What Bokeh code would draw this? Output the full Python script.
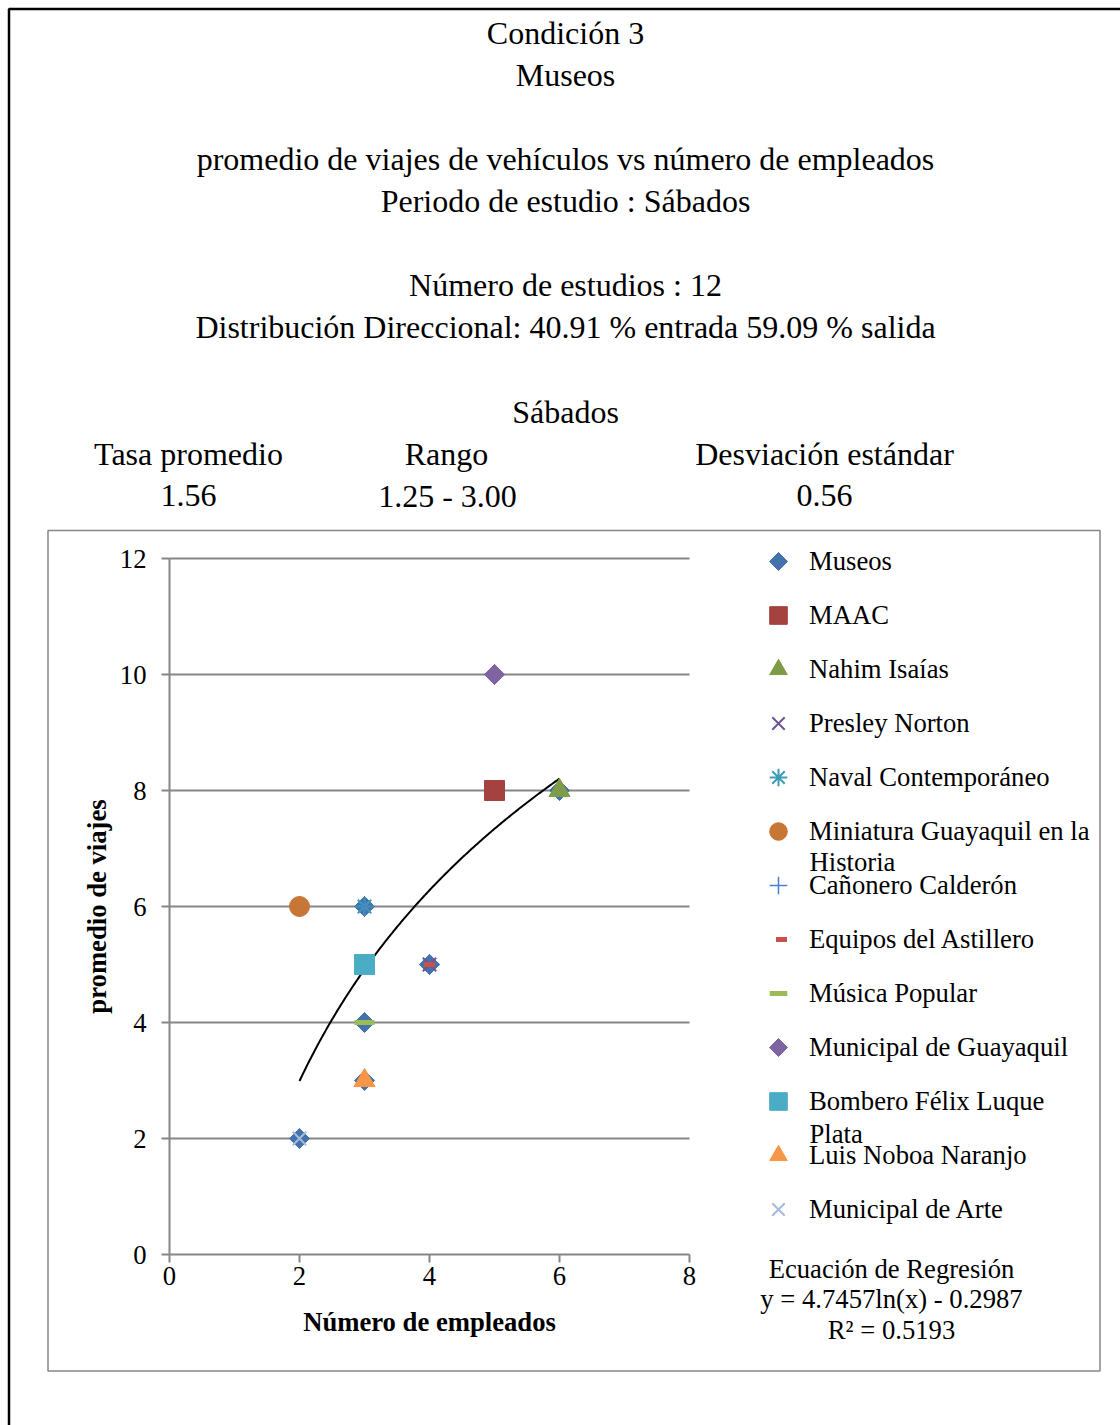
import numpy as np
from bokeh.plotting import figure
from bokeh.models import (Label, BoxAnnotation, Legend, LegendItem, Range1d,
                          FixedTicker)
from bokeh.embed import file_html
from bokeh.resources import INLINE

# ---------------- data ----------------
title_lines = ["Condición 3", "Museos",
               "promedio de viajes de vehículos vs número de empleados",
               "Periodo de estudio : Sábados",
               "Número de estudios : 12",
               "Distribución Direccional: 40.91 % entrada 59.09 % salida",
               "Sábados"]
stat_headers = ["Tasa promedio", "Rango", "Desviación estándar"]
stat_values = ["1.56", "1.25 - 3.00", "0.56"]

x_ticks = [0, 2, 4, 6, 8]
y_ticks = [0, 2, 4, 6, 8, 10, 12]
x_label = "Número de empleados"
y_label = "promedio de viajes"

series_names = ["Museos", "MAAC", "Nahim Isaías", "Presley Norton",
                "Naval Contemporáneo", "Miniatura Guayaquil en la",
                "Cañonero Calderón", "Equipos del Astillero", "Música Popular",
                "Municipal de Guayaquil", "Bombero Félix Luque",
                "Luis Noboa Naranjo", "Municipal de Arte"]
wrapped_tails = {"Miniatura Guayaquil en la": "Historia",
                 "Bombero Félix Luque": "Plata"}

museos_x = [5, 6, 4, 3, 2, 3, 4, 3, 5, 3, 3, 2]
museos_y = [8, 8, 5, 6, 6, 6, 5, 4, 10, 5, 3, 2]
maac_x, maac_y = [5], [8]
nahim_x, nahim_y = [6], [8]
presley_x, presley_y = [4], [5]
naval_x, naval_y = [3], [6]
miniatura_x, miniatura_y = [2], [6]
canonero_x, canonero_y = [3], [6]
equipos_x, equipos_y = [4], [5]
musica_x, musica_y = [3], [4]
mun_guay_x, mun_guay_y = [5], [10]
bombero_x, bombero_y = [3], [5]
noboa_x, noboa_y = [3], [3]
mun_arte_x, mun_arte_y = [2], [2]

reg_a = 4.7457
reg_b = -0.2987
reg_x_range = (2, 6)
regression_lines = ["Ecuación de Regresión", "y = 4.7457ln(x) - 0.2987",
                    "R² = 0.5193"]

# ---------------- layout constants (page px) ----------------
W, H = 1120, 1425
FL, FR, FT, FB = 169, 689, 558, 1254   # scatter area edges on page
X_MAX, Y_MAX = 8, 12
SERIF = "Liberation Serif"
GRAY = "#868686"
kx = (FR - FL) / X_MAX
ky = (FB - FT) / Y_MAX

LEG_LEFT, LEG_TOP = 756, 539
GLYPH, LEG_SPACING = 44, 10


def sx(px):
    return px


def sy(py):
    return H - py


p = figure(width=W, height=H, output_backend="svg", toolbar_location=None,
           x_range=Range1d(-FL / kx, (W - FL) / kx),
           y_range=Range1d(-(H - FB) / ky, FB / ky),
           min_border=0)
p.outline_line_color = None
p.background_fill_color = "white"
p.border_fill_color = "white"

# axes drawn at fixed data locations inside the canvas
for ax, b in ((p.xaxis[0], (0, X_MAX)), (p.yaxis[0], (0, Y_MAX))):
    ax.fixed_location = 0
    ax.bounds = b
    ax.axis_line_color = GRAY
    ax.axis_line_width = 2
    ax.major_tick_line_color = GRAY
    ax.major_tick_line_width = 2
    ax.major_tick_out = 8
    ax.major_tick_in = 0
    ax.minor_tick_line_color = None
    ax.major_label_text_font = SERIF
    ax.major_label_text_font_size = "26.67px"
    ax.major_label_text_color = "black"
    ax.axis_label_text_font = SERIF
    ax.axis_label_text_font_size = "26.67px"
    ax.axis_label_text_font_style = "bold"
    ax.axis_label_text_color = "black"
p.xaxis.ticker = FixedTicker(ticks=x_ticks)
p.yaxis.ticker = FixedTicker(ticks=y_ticks)
p.xaxis.axis_label = x_label
p.yaxis.axis_label = y_label
p.xaxis.major_label_standoff = 4
p.yaxis.major_label_standoff = 15
p.xaxis.axis_label_standoff = 19
p.yaxis.axis_label_standoff = 5
p.xgrid.visible = False
p.ygrid.visible = False

# horizontal gridlines limited to the x-axis extent
grid_y = [t for t in y_ticks if t > 0]
p.segment(x0=[0] * len(grid_y), x1=[X_MAX] * len(grid_y), y0=grid_y, y1=grid_y,
          line_color=GRAY, line_width=2)

# boxes
p.add_layout(BoxAnnotation(left=sx(8.5), right=sx(3000), top=sy(8.5),
                           bottom=sy(4000), left_units="screen",
                           right_units="screen", top_units="screen",
                           bottom_units="screen", fill_alpha=0,
                           line_color="black", line_alpha=1, line_width=2.5))
p.add_layout(BoxAnnotation(left=sx(47.5), right=sx(1099.5), top=sy(530),
                           bottom=sy(1370.5), left_units="screen",
                           right_units="screen", top_units="screen",
                           bottom_units="screen", fill_alpha=0,
                           line_color=GRAY, line_alpha=1, line_width=1.5))


def txt(s, px, py, size="32px", align="center"):
    p.add_layout(Label(x=sx(px), y=sy(py), x_units="screen", y_units="screen",
                       text=s, text_align=align, text_baseline="alphabetic",
                       text_font=SERIF, text_font_size=size,
                       text_color="black"))


step = 42.12
y0 = 32
title_rows = [0, 1, 3, 4, 6, 7, 9]
for s, r in zip(title_lines, title_rows):
    txt(s, 565, y0 + step * r)
for s, cx in zip(stat_headers, [188, 446, 824]):
    txt(s, cx, y0 + step * 10)
for s, cx in zip(stat_values, [188, 447, 824]):
    txt(s, cx, y0 + step * 11)

# regression text
for i, s in enumerate(regression_lines):
    txt(s, 891, 1268 + 30.5 * i, size="26.67px")

# trendline
xs = np.linspace(reg_x_range[0], reg_x_range[1], 200)
p.line(xs, reg_a * np.log(xs) + reg_b, line_color="black", line_width=2)

# series
renderers = []


def add(x, y, marker, color, size, lw=1, filled=True, angle=0.0):
    r = p.scatter(x, y, marker=marker, size=size, angle=angle,
                  fill_color=color if filled else None,
                  line_color=color, line_width=lw)
    renderers.append(r)
    return r


COL_MUSEOS = "#4372AC"
COL_MUNGUAY = "#8064A2"
COL_EQUIPOS = "#C8504D"
add(museos_x, museos_y, "square", COL_MUSEOS, 14.2, angle=np.pi / 4)
add(maac_x, maac_y, "square", "#A3423F", 20)
add(nahim_x, nahim_y, "triangle", "#7E9C47", 21)
add(presley_x, presley_y, "x", "#6E5592", 19, lw=2, filled=False)
add(naval_x, naval_y, "asterisk", "#3C9CB5", 19, lw=2, filled=False)
add(miniatura_x, miniatura_y, "circle", "#C87636", 20)
add(canonero_x, canonero_y, "cross", "#4E7FCB", 18, lw=1.5, filled=False)
add(equipos_x, equipos_y, "dash", COL_EQUIPOS, 11, lw=5, filled=False)
add(musica_x, musica_y, "dash", "#9BBB59", 20, lw=5, filled=False)
add(mun_guay_x, mun_guay_y, "square", COL_MUNGUAY, 14.2, angle=np.pi / 4)
add(bombero_x, bombero_y, "square", "#4BACC6", 20)
add(noboa_x, noboa_y, "triangle", "#F79646", 21)
add(mun_arte_x, mun_arte_y, "x", "#A6BADB", 19, lw=2, filled=False)

# the legend draws markers unrotated and at one size, so these entries get a
# blank proxy and their own swatch placed on the legend's glyph slot
custom_swatches = {0: ("square", COL_MUSEOS, 12.7, np.pi / 4, 1, 3),
                   7: ("dash", COL_EQUIPOS, 11, 0.0, 5, 3),
                   9: ("square", COL_MUNGUAY, 12.7, np.pi / 4, 1, 0)}
legend_renderers = list(renderers)
for idx, (mk, col, size, ang, lw, dx) in custom_swatches.items():
    proxy = p.scatter(x=[], y=[], marker="square", fill_alpha=0, line_alpha=0)
    legend_renderers[idx] = proxy
    cx_pg = LEG_LEFT + GLYPH / 2 + (dx if mk == "dash" else 0)
    cy_pg = LEG_TOP + GLYPH / 2 + idx * (GLYPH + LEG_SPACING)
    p.scatter(x=[(cx_pg - FL) / kx], y=[(FB - cy_pg) / ky], marker=mk,
              angle=ang, size=size, fill_color=col, line_color=col,
              line_width=lw)

items = [LegendItem(label=n, renderers=[r])
         for n, r in zip(series_names, legend_renderers)]
leg_h = len(items) * GLYPH + (len(items) - 1) * LEG_SPACING
legend = Legend(items=items, location=(LEG_LEFT, H - (LEG_TOP + leg_h)),
                glyph_width=GLYPH, glyph_height=GLYPH, label_height=GLYPH,
                spacing=LEG_SPACING, padding=0, margin=0,
                border_line_color=None, background_fill_alpha=0,
                label_standoff=9, label_text_font=SERIF,
                label_text_font_size="26.67px", label_text_color="black")
p.add_layout(legend)

# wrapped legend tails
txt(wrapped_tails["Miniatura Guayaquil en la"], 809, 861, size="26.67px", align="left")
txt(wrapped_tails["Bombero Félix Luque"], 809, 1133, size="26.67px", align="left")

open("out.html", "w").write(file_html(p, INLINE))
